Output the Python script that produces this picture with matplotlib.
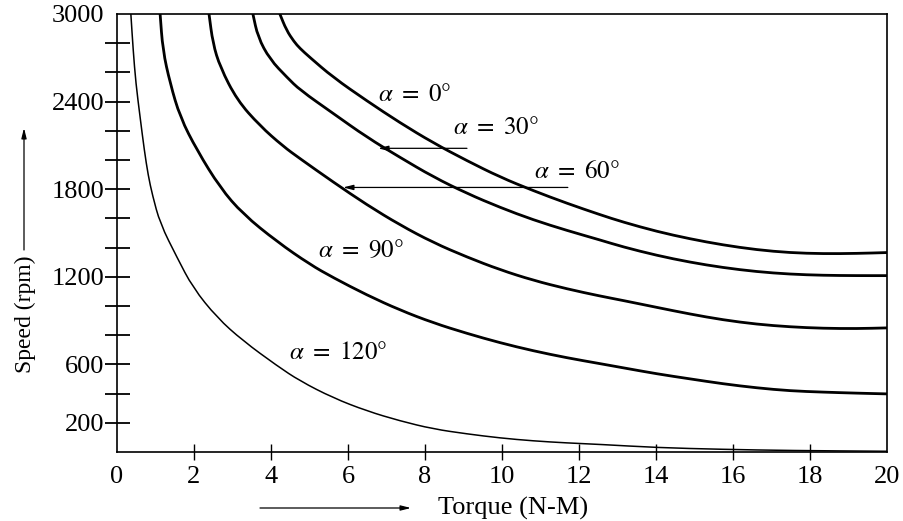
import matplotlib
matplotlib.use("Agg")
import matplotlib.pyplot as plt
from matplotlib.path import Path
from matplotlib.patches import PathPatch

plt.rcParams['font.family'] = ['Liberation Serif', 'DejaVu Serif']
plt.rcParams['mathtext.fontset'] = 'stix'

# ---- data ----
torque_a0 = [4.23, 4.40, 4.60, 4.75, 5.00, 5.61, 6.49, 7.35, 8.21, 9.09, 9.95, 10.81,
             11.69, 12.55, 13.14, 14.03, 14.88, 15.74, 16.62, 17.48, 18.34, 19.22, 20.0]
speed_a0 = [3000, 2890, 2810, 2765, 2705, 2567, 2405, 2255, 2118, 1995, 1883, 1790,
            1703, 1625, 1575, 1510, 1460, 1418, 1385, 1365, 1358, 1360, 1366]

torque_a30 = [3.53, 3.66, 3.97, 4.42, 4.75, 5.61, 6.49, 7.35, 8.21, 9.09, 9.95, 10.81,
              11.69, 12.55, 13.14, 14.03, 14.88, 15.74, 16.62, 17.48, 18.34, 19.22, 20.0]
speed_a30 = [3000, 2842, 2690, 2565, 2480, 2320, 2156, 2018, 1885, 1771, 1675, 1590,
             1517, 1452, 1405, 1346, 1300, 1263, 1235, 1218, 1210, 1208, 1208]

torque_a60 = [2.39, 2.49, 2.68, 3.12, 3.71, 4.31, 4.75, 5.61, 6.49, 7.35, 8.21, 9.09,
              9.95, 10.81, 11.69, 12.55, 13.14, 14.03, 14.88, 15.74, 16.62, 17.48,
              18.34, 19.22, 20.0]
speed_a60 = [3000, 2800, 2636, 2410, 2235, 2095, 2010, 1850, 1693, 1555, 1435, 1335,
             1248, 1176, 1117, 1068, 1038, 990, 945, 905, 875, 857, 847, 845, 850]

torque_a90 = [1.12, 1.19, 1.38, 1.64, 2.08, 2.68, 3.27, 4.16, 5.01, 5.61, 6.49, 7.35,
              8.21, 9.09, 9.95, 10.81, 11.69, 12.55, 13.14, 14.03, 14.88, 15.74, 16.62,
              17.48, 18.34, 19.22, 20.0]
speed_a90 = [3000, 2753, 2526, 2293, 2066, 1810, 1630, 1440, 1285, 1195, 1075, 972,
             885, 812, 748, 693, 645, 605, 577, 535, 501, 467, 439, 419, 410, 403, 398]

torque_a120 = [0.36, 0.42, 0.49, 0.60, 0.71, 0.81, 0.92, 1.12, 1.56, 1.97, 2.60, 3.27,
               4.16, 4.75, 5.61, 6.49, 7.35, 8.21, 9.09, 9.95, 10.81, 11.69, 12.55,
               14.03, 15.74, 17.5, 20.0]
speed_a120 = [3000, 2753, 2526, 2293, 2066, 1895, 1760, 1565, 1332, 1126, 920, 762,
              590, 487, 371, 281, 213, 158, 124, 96, 76, 62, 52, 30, 18, 10, 5]

x_ticks = [0, 2, 4, 6, 8, 10, 12, 14, 16, 18, 20]
y_ticks = list(range(0, 3001, 200))
y_labels = {200: '200', 600: '600', 1200: '1200', 1800: '1800', 2400: '2400', 3000: '3000'}


def smooth_curve(ax, xs, ys, lw):
    """Draw a smooth quadratic-Bezier curve guided by the read points."""
    pts = list(zip(xs, ys))
    verts = [pts[0]]
    codes = [Path.MOVETO]
    mid = lambda a, b: ((a[0] + b[0]) / 2, (a[1] + b[1]) / 2)
    verts.append(mid(pts[0], pts[1]))
    codes.append(Path.LINETO)
    for i in range(1, len(pts) - 1):
        verts += [pts[i], mid(pts[i], pts[i + 1])]
        codes += [Path.CURVE3, Path.CURVE3]
    verts.append(pts[-1])
    codes.append(Path.LINETO)
    ax.add_patch(PathPatch(Path(verts, codes), facecolor='none', edgecolor='black',
                           lw=lw, capstyle='round', joinstyle='round'))


# ---- figure ----
fig = plt.figure(figsize=(9.04, 5.21), dpi=100)
ax = fig.add_axes([117/904, 69/521, 770/904, 438/521])

thick = 2.0
smooth_curve(ax, torque_a0, speed_a0, thick)
smooth_curve(ax, torque_a30, speed_a30, thick)
smooth_curve(ax, torque_a60, speed_a60, thick)
smooth_curve(ax, torque_a90, speed_a90, thick)
smooth_curve(ax, torque_a120, speed_a120, 1.1)

ax.set_xlim(0, 20)
ax.set_ylim(0, 3000)

ax.set_xticks(x_ticks)
ax.set_xticklabels([str(t) for t in x_ticks])
ax.set_yticks(y_ticks)
ax.set_yticklabels([y_labels.get(v, '') for v in y_ticks])

ax.tick_params(axis='y', direction='inout', length=18, width=1.3, labelsize=19, pad=0)
ax.tick_params(axis='x', direction='inout', length=11.5, width=1.0, labelsize=19, pad=4)
for t in (ax.xaxis.get_major_ticks()[0], ax.xaxis.get_major_ticks()[-1],
          ax.yaxis.get_major_ticks()[0], ax.yaxis.get_major_ticks()[-1]):
    t.tick1line.set_visible(False)
for s in ax.spines.values():
    s.set_linewidth(1.2)

# curve labels
lab_fs = 18
ax.text(7.74, 2444, r'$\alpha\ =\ 0\degree$', fontsize=lab_fs, ha='center', va='center')
ax.text(9.84, 2217, r'$\alpha\ =\ 30\degree$', fontsize=lab_fs, ha='center', va='center')
ax.text(11.95, 1915, r'$\alpha\ =\ 60\degree$', fontsize=lab_fs, ha='center', va='center')
ax.text(6.34, 1380, r'$\alpha\ =\ 90\degree$', fontsize=lab_fs, ha='center', va='center')
ax.text(5.74, 680, r'$\alpha\ =\ 120\degree$', fontsize=lab_fs, ha='center', va='center')

arrow_kw = dict(arrowstyle='-|>,head_length=0.6,head_width=0.15', color='black', lw=0.9,
                shrinkA=0, shrinkB=0)
ax.annotate('', xy=(6.78, 2080), xytext=(9.09, 2080), arrowprops=arrow_kw)
ax.annotate('', xy=(5.87, 1812), xytext=(11.71, 1812), arrowprops=arrow_kw)

# axis titles with arrows
fig.text(25/904, 1 - 314/521, 'Speed (rpm)', rotation=90, fontsize=17,
         ha='center', va='center')
fig.text(438/904, 1 - 508/521, 'Torque (N-M)', fontsize=19, ha='left', va='center')
ax.annotate('', xy=(24, 521 - 128), xytext=(24, 521 - 250), xycoords='figure pixels',
            textcoords='figure pixels', arrowprops=arrow_kw, annotation_clip=False)
ax.annotate('', xy=(411, 521 - 508), xytext=(260, 521 - 508), xycoords='figure pixels',
            textcoords='figure pixels', arrowprops=arrow_kw, annotation_clip=False)

fig.savefig('out.png', dpi=100)
